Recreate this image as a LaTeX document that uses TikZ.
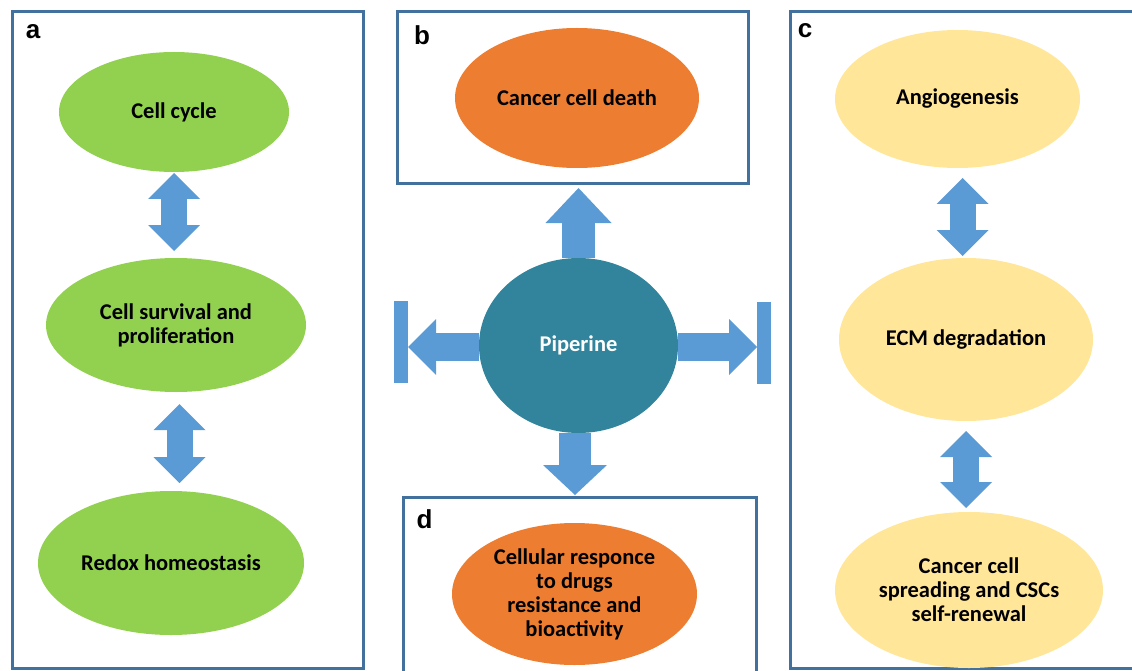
\documentclass[tikz,border=0pt]{standalone}
\usepackage{fontspec}
\setmainfont{Carlito}
\newfontfamily\tagfont{Liberation Sans}
\usepackage{tikz}
\usetikzlibrary{shapes.geometric,arrows.meta,positioning}
\definecolor{leaf}{HTML}{92D050}
\definecolor{rust}{HTML}{ED7D31}
\definecolor{sand}{HTML}{FFE699}
\definecolor{sky}{HTML}{5B9BD5}
\definecolor{teal}{HTML}{31849B}
\definecolor{frame}{HTML}{41719C}

\begin{document}
\begin{tikzpicture}[x=1pt,y=-1pt,
    oval/.style={ellipse,inner sep=0pt,outer sep=0pt,align=center,
      font=\fontsize{22.5}{24}\selectfont\bfseries},
    panel/.style={draw=frame,line width=3pt,inner sep=0pt,outer sep=0pt},
    tag/.style={anchor=base,inner sep=0pt,font=\tagfont\fontsize{26}{26}\selectfont\bfseries},
    bar/.style={fill=sky,inner sep=0pt,outer sep=0pt,minimum width=14pt,minimum height=82pt},
    both/.style={color=sky,line width=26pt,
      arrows={Triangle[length=26pt,width=52pt,line width=0pt]-Triangle[length=26pt,width=52pt,line width=0pt]}},
    one/.style 2 args={color=sky,line width=#1,
      arrows={-Triangle[length=#2,width=2*#1,line width=0pt]}}]
    \useasboundingbox (0,0) rectangle (1132,671);

    % panels
    \node[panel,minimum width=351pt,minimum height=656pt] (boxa) at (187.5,340) {};
    \node[panel,minimum width=351pt,minimum height=172pt] (boxb) at (572.5,98) {};
    \node[panel,minimum width=348pt,minimum height=656pt] (boxc) at (964,340) {};
    \node[panel,minimum width=353pt,minimum height=180pt] (boxd) at (579.5,587) {};
    \node[tag] (taga) at (33,39) {a};
    \node[tag] (tagb) at (422,45) {b};
    \node[tag] (tagc) at (805,38) {c};
    \node[tag] (tagd) at (424.5,528) {d};

    % panel a
    \node[oval,fill=leaf,minimum width=230pt,minimum height=120pt] (cyc) at (174,112) {Cell cycle};
    \node[oval,fill=leaf,minimum width=260pt,minimum height=134pt] (surv) at (176,325)
      {Cell survival and\\proliferation};
    \node[oval,fill=leaf,minimum width=266pt,minimum height=144pt] (redox) at (171,563)
      {Redox homeostasis};

    % centre
    \node[oval,fill=teal,text=white,minimum width=199pt,minimum height=175pt] (pip) at (578.5,345.5) {Piperine};
    \node[oval,fill=rust,minimum width=244pt,minimum height=140pt] (death) at (577,98) {Cancer cell death};
    \node[oval,fill=rust,minimum width=245pt,minimum height=142pt] (resp) at (574.5,594)
      {Cellular responce\\to drugs\\resistance and\\bioactivity};
    \node[bar] (lbar) at (401,342) {};
    \node[bar] (rbar) at (764,343) {};

    % panel c
    \node[oval,fill=sand,minimum width=245pt,minimum height=138pt] (angio) at (957.5,99) {Angiogenesis};
    \node[oval,fill=sand,minimum width=254pt,minimum height=163pt] (ecm) at (966,339.5) {ECM degradation};
    \node[oval,fill=sand,minimum width=268pt,minimum height=156pt] (spread) at (969,590)
      {Cancer cell\\spreading and CSCs\\self-renewal};

    \path[both]
      (cyc.south) edge [shorten <=1pt,shorten >=7pt] (cyc.south |- surv.north)
      ([xshift=3.5pt]surv.south) edge [shorten <=12pt,shorten >=8pt] ([xshift=3.5pt]surv.south |- redox.north)
      ([xshift=5pt]angio.south) edge [shorten <=10pt,shorten >=2pt] ([xshift=5pt]angio.south |- ecm.north)
      (ecm.south) edge [shorten <=10pt,shorten >=4pt] (ecm.south |- spread.north);

    \draw[one={33pt}{35pt}] (pip.north) -- (pip.north |- boxb.south) [shorten >=4pt];
    \draw[one={32pt}{30pt}] ([xshift=-3.5pt]pip.south) -- ([xshift=-3.5pt]pip.south |- boxd.north) [shorten >=2pt];
    \draw[one={28pt}{28pt}] ([yshift=-1.5pt]pip.west) -- ([yshift=-1.5pt]pip.west -| lbar.east);
    \draw[one={28pt}{28pt}] ([yshift=-1.5pt]pip.east) -- ([yshift=-1.5pt]pip.east -| rbar.west);
\end{tikzpicture}
\end{document}
